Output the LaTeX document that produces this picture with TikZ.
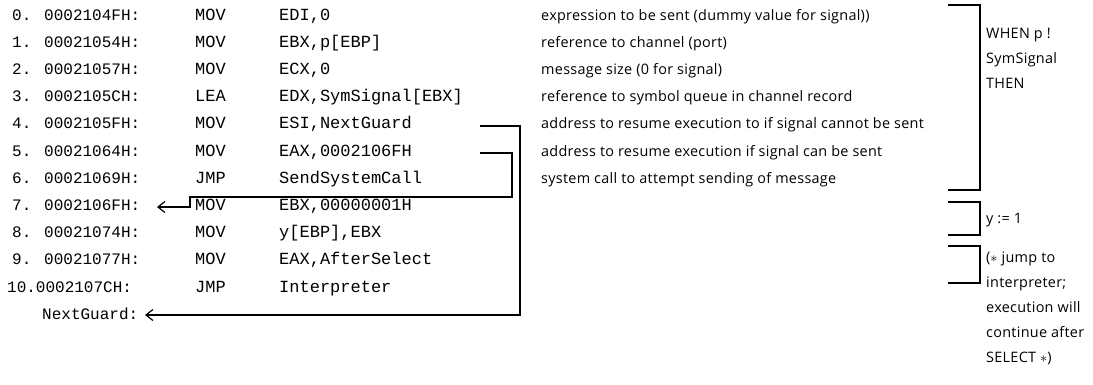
\documentclass[tikz,border=0pt]{standalone}
\usepackage{fontspec}
\newfontfamily\codefont{Liberation Mono}
\newfontfamily\notefont[LetterSpace=2]{Open Sans}
\usetikzlibrary{arrows.meta}
\begin{document}
\begin{tikzpicture}[x=1pt,y=-1pt,
  addr/.style={anchor=base west,inner sep=0pt,font=\codefont\fontsize{16}{18}\selectfont},
  code/.style={anchor=base west,inner sep=0pt,font=\codefont\fontsize{17}{19}\selectfont},
  note/.style={anchor=base west,inner sep=0pt,font=\notefont\fontsize{14.4}{16}\selectfont},
  wire/.style={line width=1.2pt},
  jump/.style={wire,-{Straight Barb[length=7pt,width=11pt,line width=1.2pt]}},
  brace/.style={line width=1.3pt}]
\useasboundingbox (0,0) rectangle (1093,384);

% instruction listing: address, mnemonic, operands
\foreach \i/\x/\ad/\mn/\arg in {
  0/12/{0. 0002104FH:}/MOV/{EDI,0},
  1/12/{1. 00021054H:}/MOV/{EBX,p[EBP]},
  2/12/{2. 00021057H:}/MOV/{ECX,0},
  3/12/{3. 0002105CH:}/LEA/{EDX,SymSignal[EBX]},
  4/12/{4. 0002105FH:}/MOV/{ESI,NextGuard},
  5/12/{5. 00021064H:}/MOV/{EAX,0002106FH},
  6/12/{6. 00021069H:}/JMP/{SendSystemCall},
  7/12/{7. 0002106FH:}/MOV/{EBX,00000001H},
  8/12/{8. 00021074H:}/MOV/{y[EBP],EBX},
  9/12/{9. 00021077H:}/MOV/{EAX,AfterSelect},
  10/7/{10.0002107CH:}/JMP/{Interpreter}}{
  \pgfmathsetmacro\yb{20+27.2*\i}
  \node[addr] (a\i) at (\x,\yb) {\ad};
  \node[code] (m\i) at (195,\yb) {\mn};
  \node[code] (o\i) at (279,\yb) {\arg};
}
\node[addr] (ng) at (42,319) {NextGuard:};

% comments for the first seven instructions
\foreach \i/\txt in {
  0/{expression to be sent (dummy value for signal))},
  1/{reference to channel (port)},
  2/{message size (0 for signal)},
  3/{reference to symbol queue in channel record},
  4/{address to resume execution to if signal cannot be sent},
  5/{address to resume execution if signal can be sent},
  6/{system call to attempt sending of message}}{
  \pgfmathsetmacro\yb{20+27.2*\i}
  \node[note] (c\i) at (541,\yb) {\txt};
}

% jump targets
\coordinate (s4) at (480,126);
\coordinate (k4) at (520,315);
\coordinate (tN) at (145,315);
\coordinate (s5) at (480,153);
\coordinate (k5a) at (512,197);
\coordinate (k5b) at (190,207);
\coordinate (t7) at (157,207);
\draw[jump] (s4) -| (k4) -- (tN);
\draw[jump] (s5) -| (k5a) -| (k5b) -- (t7);

% source-level brackets
\draw[brace] (948,5) -- (980,5) -- (980,190) -- (948,190);
\draw[brace] (948,202) -- (980,202) -- (980,235) -- (948,235);
\draw[brace] (948,246) -- (980,246) -- (980,283) -- (948,283);

\node[note] (w1) at (986,38) {WHEN p !};
\node[note] (w2) at (986,63) {SymSignal};
\node[note] (w3) at (986,88) {THEN};
\node[note] (y1) at (986,223) {y := 1};
\node[note] (j1) at (986,262) {($\ast$ jump to};
\node[note] (j2) at (986,287) {interpreter;};
\node[note] (j3) at (986,312) {execution will};
\node[note] (j4) at (986,337) {continue after};
\node[note] (j5) at (986,362) {SELECT $\ast$)};
\end{tikzpicture}
\end{document}
